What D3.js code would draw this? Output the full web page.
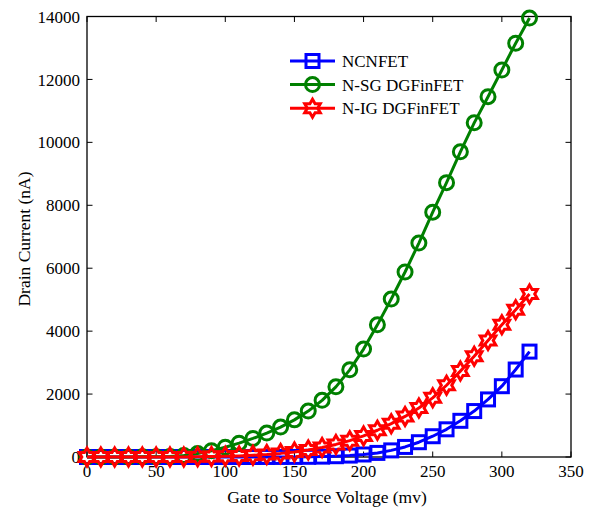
<!DOCTYPE html>
<html>
<head>
<meta charset="utf-8">
<script src="https://cdn.jsdelivr.net/npm/d3@7"></script>
<style>
  html, body { margin: 0; padding: 0; background: #fff; }
  svg { display: block; }
  text { font-family: "Liberation Serif", "Times New Roman", "DejaVu Serif", serif; fill: #000; }
</style>
</head>
<body>
<svg id="chart" width="597" height="509"></svg>
<script>
// Gate-to-source voltage sweep (mV)
const voltage = [0, 10, 20, 30, 40, 50, 60, 70, 80, 90, 100, 110, 120, 130, 140, 150, 160,
                 170, 180, 190, 200, 210, 220, 230, 240, 250, 260, 270, 280, 290, 300, 310, 320];

// Drain current (nA) for each device
const ncnfet = [0, 0, 0, 0, 0, 0, 0, 0, 0, 0, 0, 0, 0, 1, 2, 3, 6,
                12, 25, 45, 80, 130, 210, 320, 470, 660, 880, 1150, 1460, 1830, 2250, 2780, 3350];
const sgDgFinFet = [0, 0, 0, 2, 5, 10, 15, 45, 110, 200, 310, 440, 590, 760, 950, 1180, 1460,
                    1800, 2230, 2770, 3430, 4200, 5020, 5880, 6800, 7780, 8720, 9700, 10620, 11450, 12300, 13150, 13950];
const igDgFinFet = [0, 0, 0, 0, 0, 0, 0, 3, 6, 12, 22, 35, 55, 80, 115, 160, 220,
                    300, 400, 520, 670, 850, 1060, 1290, 1560, 1880, 2280, 2730, 3200, 3700, 4200, 4680, 5180];

const seriesNames = ["NCNFET", "N-SG DGFinFET", "N-IG DGFinFET"];
const xTicks = [0, 50, 100, 150, 200, 250, 300, 350];
const yTicks = [0, 2000, 4000, 6000, 8000, 10000, 12000, 14000];

const series = [
  { name: seriesNames[0], values: ncnfet,     color: "#0000ff", marker: "square" },
  { name: seriesNames[1], values: sgDgFinFet, color: "#008000", marker: "circle" },
  { name: seriesNames[2], values: igDgFinFet, color: "#ff0000", marker: "hexagram" }
];

const svg = d3.select("#chart");
const plot = { left: 87, right: 571, top: 16.5, bottom: 457 };

const x = d3.scaleLinear().domain([0, 350]).range([plot.left, plot.right]);
const y = d3.scaleLinear().domain([0, 14000]).range([plot.bottom, plot.top]);

const strokeW = 3;

// Six-pointed star outline centred on the origin
function hexagramPath(R) {
  const r = R / Math.sqrt(3);
  const pts = [];
  for (let i = 0; i < 12; i++) {
    const a = -Math.PI / 2 + i * Math.PI / 6;
    const rad = i % 2 === 0 ? R : r;
    pts.push([rad * Math.cos(a), rad * Math.sin(a)]);
  }
  return "M" + pts.map(p => p[0].toFixed(2) + "," + p[1].toFixed(2)).join("L") + "Z";
}

function drawMarker(g, type, color) {
  if (type === "square") {
    g.append("rect").attr("x", -6.5).attr("y", -6.5).attr("width", 13).attr("height", 13)
      .attr("fill", "none").attr("stroke", color).attr("stroke-width", strokeW);
  } else if (type === "circle") {
    g.append("circle").attr("r", 7)
      .attr("fill", "none").attr("stroke", color).attr("stroke-width", strokeW);
  } else {
    g.append("path").attr("d", hexagramPath(9))
      .attr("fill", "none").attr("stroke", color).attr("stroke-width", strokeW)
      .attr("stroke-linejoin", "miter");
  }
}

// Axes box with inward ticks on all four sides
const frame = svg.append("g");
frame.append("rect")
  .attr("x", plot.left).attr("y", plot.top)
  .attr("width", plot.right - plot.left).attr("height", plot.bottom - plot.top)
  .attr("fill", "none").attr("stroke", "#000").attr("stroke-width", 1.3);

const tickLen = 5.5;
xTicks.forEach(t => {
  frame.append("line").attr("x1", x(t)).attr("x2", x(t))
    .attr("y1", plot.bottom).attr("y2", plot.bottom - tickLen).attr("stroke", "#000");
  frame.append("line").attr("x1", x(t)).attr("x2", x(t))
    .attr("y1", plot.top).attr("y2", plot.top + tickLen).attr("stroke", "#000");
  frame.append("text").attr("x", x(t)).attr("y", 477)
    .attr("text-anchor", "middle").style("font-size", "17px").text(t);
});
yTicks.forEach(t => {
  frame.append("line").attr("x1", plot.left).attr("x2", plot.left + tickLen)
    .attr("y1", y(t)).attr("y2", y(t)).attr("stroke", "#000");
  frame.append("line").attr("x1", plot.right).attr("x2", plot.right - tickLen)
    .attr("y1", y(t)).attr("y2", y(t)).attr("stroke", "#000");
  frame.append("text").attr("x", 80).attr("y", y(t)).attr("dy", "0.36em")
    .attr("text-anchor", "end").style("font-size", "17px").text(t);
});

// Axis titles
svg.append("text").attr("x", 327).attr("y", 503)
  .attr("text-anchor", "middle").style("font-size", "17.5px")
  .text("Gate to Source Voltage (mv)");
svg.append("text")
  .attr("transform", "translate(30,239) rotate(-90)")
  .attr("text-anchor", "middle").style("font-size", "17.5px")
  .text("Drain Current (nA)");

// Data lines and markers
const line = d3.line().x((d, i) => x(voltage[i])).y(d => y(d));
series.forEach(s => {
  const g = svg.append("g");
  g.append("path").datum(s.values).attr("d", line)
    .attr("fill", "none").attr("stroke", s.color).attr("stroke-width", strokeW)
    .attr("stroke-linejoin", "round");
  g.selectAll("g.mk").data(s.values).enter().append("g").attr("class", "mk")
    .attr("transform", (d, i) => `translate(${x(voltage[i])},${y(d)})`)
    .each(function () { drawMarker(d3.select(this), s.marker, s.color); });
});

// Legend
const legend = svg.append("g");
series.forEach((s, i) => {
  const cy = 61 + i * 23.6;
  const row = legend.append("g");
  row.append("line").attr("x1", 290).attr("x2", 335).attr("y1", cy).attr("y2", cy)
    .attr("stroke", s.color).attr("stroke-width", strokeW);
  const mk = row.append("g").attr("transform", `translate(312.5,${cy})`);
  drawMarker(mk, s.marker, s.color);
  row.append("text").attr("x", 342).attr("y", cy).attr("dy", "0.36em")
    .style("font-size", "17px").text(s.name);
});
</script>
</body>
</html>
